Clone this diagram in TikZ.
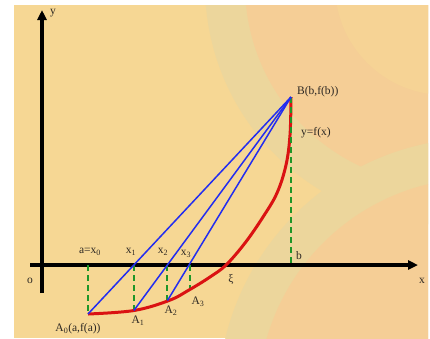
\documentclass[tikz,border=0pt]{standalone}
\usepackage{fontspec}
\setmainfont{Liberation Serif}
\usetikzlibrary{arrows.meta}
\definecolor{bgbase}{RGB}{246,215,148}
\definecolor{bgband}{RGB}{236,214,156}
\definecolor{bgorange}{RGB}{245,206,150}
\definecolor{curvered}{RGB}{218,18,18}
\definecolor{lineblue}{RGB}{35,45,240}
\definecolor{dashgreen}{RGB}{30,150,40}
\definecolor{txt}{RGB}{45,40,35}
\tikzset{
  axisline/.style={line width=3.2pt, black, -{Triangle[length=10pt,width=9pt]}},
  curveline/.style={line width=3pt, curvered},
  secant/.style={line width=1.5pt, lineblue},
  dropline/.style={line width=2pt, dashgreen, dash pattern=on 6pt off 4pt},
  lbl/.style={inner sep=0pt, text=txt, font=\fontsize{11.5}{13}\selectfont},
}
\begin{document}
\begin{tikzpicture}[x=1pt,y=-1pt]
\useasboundingbox (0,0) rectangle (430,338);
\fill[white] (0,0) rectangle (430,338);
\begin{scope}
  \clip (14,5) rectangle (428,338);
  \fill[bgbase] (14,5) rectangle (428,338);
  \fill[bgband] (445,-15) circle[radius=240pt];
  \fill[bgorange] (445,-15) circle[radius=200pt];
  \fill[bgbase!60!bgorange] (445,-15) circle[radius=110pt];
  \fill[bgband] (480,400) circle[radius=262pt];
  \fill[bgorange] (480,400) circle[radius=222pt];
\end{scope}

% key points
\coordinate (O) at (42,265);
\coordinate (B) at (291,97);
\coordinate (A0) at (88,314);
\coordinate (A1) at (134,310.5);
\coordinate (A2) at (169,300.5);
\coordinate (A3) at (189,290);
\coordinate (X0) at (88,265);
\coordinate (Bx) at (291,265);
\coordinate (xs) at (30,265);
\coordinate (xe) at (418,265);
\coordinate (ys) at (42,293);
\coordinate (ye) at (42,10);
\coordinate (X1) at (intersection of A0--B and xs--xe);
\coordinate (X2) at (intersection of A1--B and xs--xe);
\coordinate (X3) at (intersection of A2--B and xs--xe);

% axes
\draw[axisline] (xs) -- (xe);
\draw[axisline] (ys) -- (ye);

% dashed drop lines
\draw[dropline] (X0) -- (A0);
\draw[dropline] (X1) -- (X1 |- A1);
\draw[dropline] (X2) -- (X2 |- A2);
\draw[dropline] (X3) -- (X3 |- A3);

% curve
\draw[curveline] plot[smooth, tension=0.6] coordinates {(88,314) (134,310.5) (169,300.5) (189,290) (210,277) (226,265) (245,243) (263,217) (277,193) (286,165) (290,135) (291,97)};

\draw[dropline] (B) -- (Bx);

% secants
\draw[secant] (B) -- (A0);
\draw[secant] (B) -- (X1 |- A1);
\draw[secant] (B) -- (X2 |- A2);

% labels
\node[lbl, anchor=west] (lB) at (297,92) {B(b,f(b))};
\node[lbl, anchor=west] (lf) at (301,133) {y=f(x)};
\node[lbl] (ly) at (53,13) {y};
\node[lbl] (lx) at (422,281) {x};
\node[lbl] (lo) at (30,281) {o};
\node[lbl] (lb) at (299,256) {b};
\node[lbl] (lxi) at (231,279) {ξ};
\node[lbl] (lx0) at (90,252) {a=x\textsubscript{0}};
\node[lbl] (lx1) at (131,252) {x\textsubscript{1}};
\node[lbl] (lx2) at (163,252) {x\textsubscript{2}};
\node[lbl] (lx3) at (186,254) {x\textsubscript{3}};
\node[lbl] (lA0) at (78,329) {A\textsubscript{0}(a,f(a))};
\node[lbl] (lA1) at (138,321) {A\textsubscript{1}};
\node[lbl] (lA2) at (171,311) {A\textsubscript{2}};
\node[lbl] (lA3) at (198,302) {A\textsubscript{3}};
\end{tikzpicture}
\end{document}
